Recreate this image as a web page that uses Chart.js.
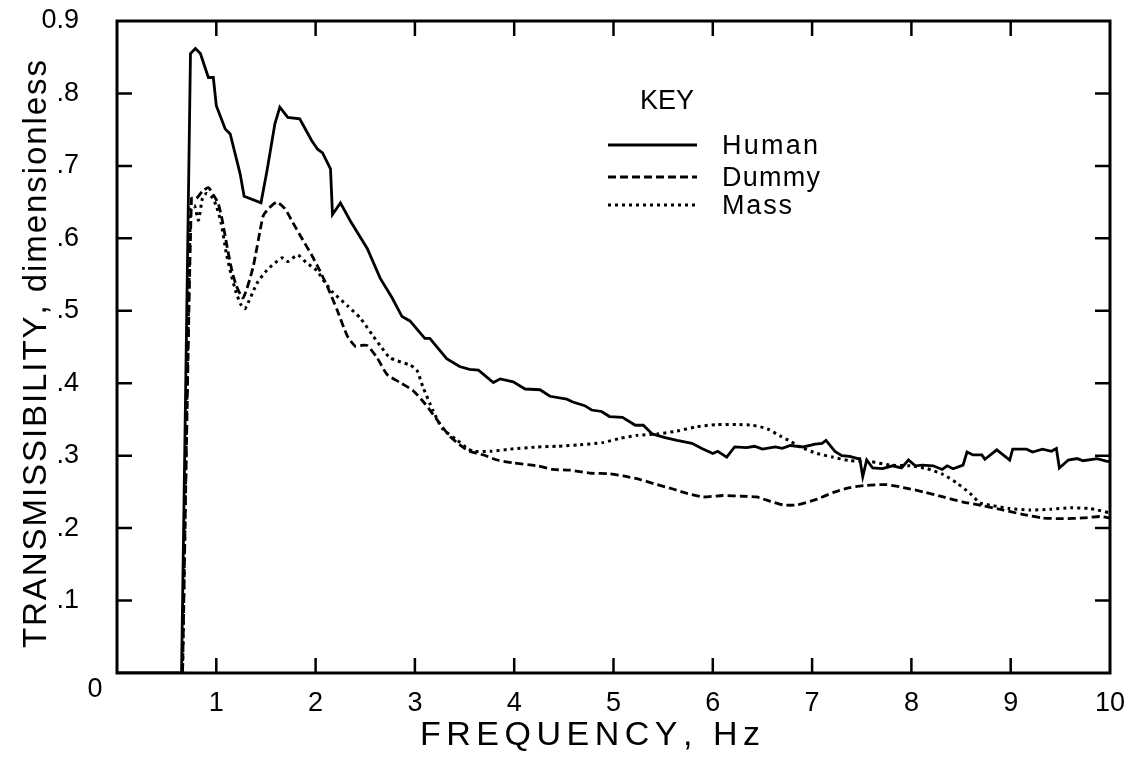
<!DOCTYPE html>
<html>
<head>
<meta charset="utf-8">
<script src="https://cdn.jsdelivr.net/npm/chart.js@4.4.0/dist/chart.umd.min.js"></script>
<style>
    html, body { margin: 0; background: #fff; }
    #wrap { width: 1134px; height: 757px; }
</style>
</head>
<body>
<div id="wrap"><canvas id="chart"></canvas></div>
<script>
// Data (frequency in Hz, transmissibility)
const humanX = [0, 0.65, 0.74, 0.79, 0.84, 0.92, 0.97, 1.0, 1.09, 1.14, 1.24, 1.28, 1.45, 1.51, 1.59, 1.64, 1.72, 1.84, 1.96, 2.02,
    2.07, 2.15, 2.17, 2.25, 2.35, 2.52, 2.65, 2.77, 2.87, 2.95, 3.1, 3.15, 3.32, 3.45, 3.55, 3.64, 3.79, 3.86, 3.99, 4.11,
    4.26, 4.36, 4.53, 4.59, 4.71, 4.78, 4.88, 4.96, 5.09, 5.22, 5.30, 5.39, 5.52, 5.64, 5.79, 5.89, 6.0, 6.05, 6.14, 6.22,
    6.34, 6.42, 6.5, 6.63, 6.7, 6.78, 6.91, 7.03, 7.1, 7.14, 7.23, 7.30, 7.38, 7.46, 7.48, 7.51, 7.55, 7.61, 7.71, 7.81,
    7.90, 7.97, 8.04, 8.11, 8.22, 8.31, 8.36, 8.42, 8.52, 8.56, 8.62, 8.71, 8.74, 8.86, 8.99, 9.02, 9.16, 9.22, 9.32, 9.41,
    9.46, 9.49, 9.58, 9.67, 9.73, 9.87, 9.97, 10];
const humanY = [0, 0, 0.855, 0.862, 0.855, 0.822, 0.822, 0.783, 0.751, 0.744, 0.689, 0.658, 0.649, 0.693, 0.758, 0.781, 0.767, 0.765, 0.735, 0.723,
    0.718, 0.696, 0.633, 0.649, 0.624, 0.586, 0.545, 0.518, 0.492, 0.486, 0.462, 0.462, 0.434, 0.423, 0.419, 0.418, 0.401, 0.406, 0.402, 0.392,
    0.391, 0.382, 0.378, 0.374, 0.369, 0.363, 0.361, 0.354, 0.353, 0.342, 0.342, 0.330, 0.325, 0.321, 0.317, 0.310, 0.303, 0.306, 0.298, 0.312,
    0.311, 0.313, 0.309, 0.312, 0.310, 0.314, 0.312, 0.316, 0.317, 0.321, 0.306, 0.300, 0.299, 0.296, 0.296, 0.271, 0.294, 0.283, 0.282, 0.286,
    0.283, 0.294, 0.286, 0.287, 0.286, 0.281, 0.286, 0.282, 0.287, 0.305, 0.301, 0.301, 0.295, 0.308, 0.294, 0.309, 0.309, 0.305, 0.309, 0.306,
    0.310, 0.283, 0.294, 0.296, 0.293, 0.296, 0.292, 0.292];

const dummyX = [0.66, 0.75, 0.80, 0.86, 0.92, 0.97, 1.02, 1.06, 1.10, 1.15, 1.20, 1.27, 1.37, 1.47, 1.52, 1.61, 1.69, 1.77, 1.87, 1.96,
    2.04, 2.12, 2.22, 2.32, 2.40, 2.45, 2.52, 2.62, 2.72, 2.85, 2.98, 3.10, 3.22, 3.35, 3.48, 3.55, 3.69, 3.83, 3.99, 4.23,
    4.39, 4.56, 4.76, 4.96, 5.10, 5.27, 5.44, 5.60, 5.74, 5.90, 6.10, 6.30, 6.44, 6.58, 6.71, 6.85, 7.05, 7.21, 7.38, 7.55,
    7.75, 7.92, 8.12, 8.32, 8.52, 8.72, 8.92, 9.12, 9.32, 9.53, 9.73, 9.90, 10];
const dummyY = [0, 0.655, 0.655, 0.665, 0.670, 0.660, 0.648, 0.625, 0.595, 0.560, 0.535, 0.518, 0.560, 0.630, 0.640, 0.650, 0.641, 0.622, 0.598, 0.577,
    0.556, 0.533, 0.500, 0.465, 0.451, 0.452, 0.452, 0.435, 0.412, 0.401, 0.390, 0.372, 0.350, 0.327, 0.312, 0.306, 0.301, 0.294, 0.290, 0.286,
    0.281, 0.280, 0.276, 0.275, 0.272, 0.267, 0.260, 0.254, 0.248, 0.243, 0.245, 0.244, 0.243, 0.237, 0.232, 0.232, 0.240, 0.249, 0.256, 0.259,
    0.260, 0.256, 0.250, 0.243, 0.236, 0.231, 0.225, 0.219, 0.214, 0.213, 0.214, 0.216, 0.214];

const massX = [0.66, 0.74, 0.78, 0.82, 0.86, 0.90, 0.95, 1.00, 1.05, 1.10, 1.15, 1.20, 1.25, 1.29, 1.41, 1.51, 1.66, 1.72, 1.82, 1.91,
    2.01, 2.09, 2.17, 2.32, 2.45, 2.58, 2.65, 2.75, 2.95, 3.02, 3.08, 3.18, 3.28, 3.42, 3.52, 3.59, 3.76, 3.96, 4.23, 4.43,
    4.66, 4.89, 5.07, 5.24, 5.44, 5.64, 5.84, 6.04, 6.24, 6.40, 6.55, 6.68, 6.78, 6.88, 7.05, 7.21, 7.38, 7.58, 7.78, 7.99,
    8.16, 8.32, 8.46, 8.59, 8.69, 8.82, 8.99, 9.19, 9.40, 9.60, 9.80, 10];
const massY = [0, 0.640, 0.645, 0.625, 0.655, 0.662, 0.658, 0.645, 0.620, 0.580, 0.550, 0.525, 0.508, 0.503, 0.538, 0.556, 0.573, 0.568, 0.577, 0.566,
    0.556, 0.540, 0.526, 0.507, 0.490, 0.465, 0.452, 0.435, 0.425, 0.418, 0.395, 0.363, 0.337, 0.322, 0.311, 0.306, 0.306, 0.309, 0.312, 0.313,
    0.315, 0.318, 0.324, 0.328, 0.330, 0.334, 0.340, 0.343, 0.343, 0.342, 0.337, 0.327, 0.320, 0.312, 0.303, 0.298, 0.293, 0.292, 0.287, 0.286,
    0.282, 0.274, 0.262, 0.248, 0.235, 0.231, 0.227, 0.225, 0.226, 0.228, 0.227, 0.221];

const xTicks = [1, 2, 3, 4, 5, 6, 7, 8, 9];
const yTicks = [0.1, 0.2, 0.3, 0.4, 0.5, 0.6, 0.7, 0.8];

function toPoints(xs, ys) {
    return xs.map((x, i) => ({x: x, y: ys[i]}));
}

const FONT = '"Liberation Sans", Arial, sans-serif';

// écrit un texte lettre par lettre en l'étalant sur une longueur donnée
function spreadText(ctx, text, x, y, length) {
    const chars = text.split('');
    const widths = chars.map(c => ctx.measureText(c).width);
    const total = widths.reduce((s, w) => s + w, 0);
    const gap = (length - total) / (chars.length - 1);
    let cx = x;
    chars.forEach((c, i) => {
        ctx.fillText(c, cx, y);
        cx += widths[i] + gap;
    });
}

// cadre + graduations intérieures + légende "KEY" + titres des axes
const framePlugin = {
    id: 'frame',
    afterDraw(chart) {
        const ctx = chart.ctx, a = chart.chartArea;
        const sx = chart.scales.x, sy = chart.scales.y;
        ctx.save();
        ctx.strokeStyle = '#000';
        ctx.lineWidth = 3;
        ctx.strokeRect(a.left, a.top, a.right - a.left, a.bottom - a.top);

        ctx.lineWidth = 2.5;
        ctx.beginPath();
        xTicks.forEach(v => {
            const px = sx.getPixelForValue(v);
            ctx.moveTo(px, a.bottom); ctx.lineTo(px, a.bottom - 15);
            ctx.moveTo(px, a.top); ctx.lineTo(px, a.top + 15);
        });
        yTicks.forEach(v => {
            const py = sy.getPixelForValue(v);
            ctx.moveTo(a.left, py); ctx.lineTo(a.left + 15, py);
            ctx.moveTo(a.right, py); ctx.lineTo(a.right - 15, py);
        });
        ctx.stroke();

        ctx.fillStyle = '#000';
        ctx.font = '27px ' + FONT;
        ctx.textAlign = 'center';
        ctx.textBaseline = 'middle';
        ctx.fillText('0', 95, 690);

        // légende
        ctx.fillText('KEY', 667, 102);
        ctx.textAlign = 'left';
        const rows = [145, 177, 205];
        chart.data.datasets.forEach((ds, i) => {
            ctx.beginPath();
            ctx.setLineDash(ds.borderDash || []);
            ctx.lineWidth = ds.borderWidth;
            ctx.moveTo(608, rows[i]);
            ctx.lineTo(697, rows[i]);
            ctx.stroke();
            spreadText(ctx, ds.label, 722, rows[i] + 2, [96, 98, 70][i]);
        });
        ctx.setLineDash([]);

        // titres
        ctx.font = '34px ' + FONT;
        spreadText(ctx, 'FREQUENCY, Hz', 420, 736, 340);
        ctx.translate(37, 648);
        ctx.rotate(-Math.PI / 2);
        ctx.font = '33px ' + FONT;
        spreadText(ctx, 'TRANSMISSIBILITY, dimensionless', 0, 0, 588);
        ctx.restore();
    }
};

// pas de marge automatique pour les libellés extrêmes
function noPad(s) {
    s.paddingTop = 0;
    s.paddingBottom = 0;
    s.paddingLeft = 0;
    s.paddingRight = 0;
}

new Chart(document.getElementById('chart'), {
    type: 'line',
    data: {
        datasets: [
            {label: 'Human', data: toPoints(humanX, humanY), borderColor: '#000', borderWidth: 2.8, pointRadius: 0, tension: 0},
            {label: 'Dummy', data: toPoints(dummyX, dummyY), borderColor: '#000', borderWidth: 2.8, borderDash: [8, 4], pointRadius: 0, tension: 0.2},
            {label: 'Mass', data: toPoints(massX, massY), borderColor: '#000', borderWidth: 3, borderDash: [3, 4], pointRadius: 0, tension: 0.2}
        ]
    },
    options: {
        responsive: true,
        maintainAspectRatio: false,
        animation: false,
        layout: {autoPadding: false, padding: {left: 0, right: 24, top: 21, bottom: 0}},
        plugins: {legend: {display: false}, tooltip: {enabled: false}},
        scales: {
            x: {
                type: 'linear', min: 0, max: 10,
                grid: {display: false}, border: {display: false},
                afterFit: function (s) { s.height = 84; noPad(s); },
                ticks: {
                    stepSize: 1, padding: 6, color: '#000', font: {family: FONT, size: 27},
                    callback: function (v) { return v === 0 ? '' : String(v); }
                }
            },
            y: {
                min: 0, max: 0.9,
                grid: {display: false}, border: {display: false},
                afterFit: function (s) { s.width = 117; noPad(s); },
                ticks: {
                    stepSize: 0.1, padding: 30, color: '#000', font: {family: FONT, size: 27},
                    callback: function (v) {
                        const r = Math.round(v * 10);
                        if (r === 0) return '';
                        if (r === 9) return '0.9';
                        return '.' + r;
                    }
                }
            }
        }
    },
    plugins: [framePlugin]
});
</script>
</body>
</html>
